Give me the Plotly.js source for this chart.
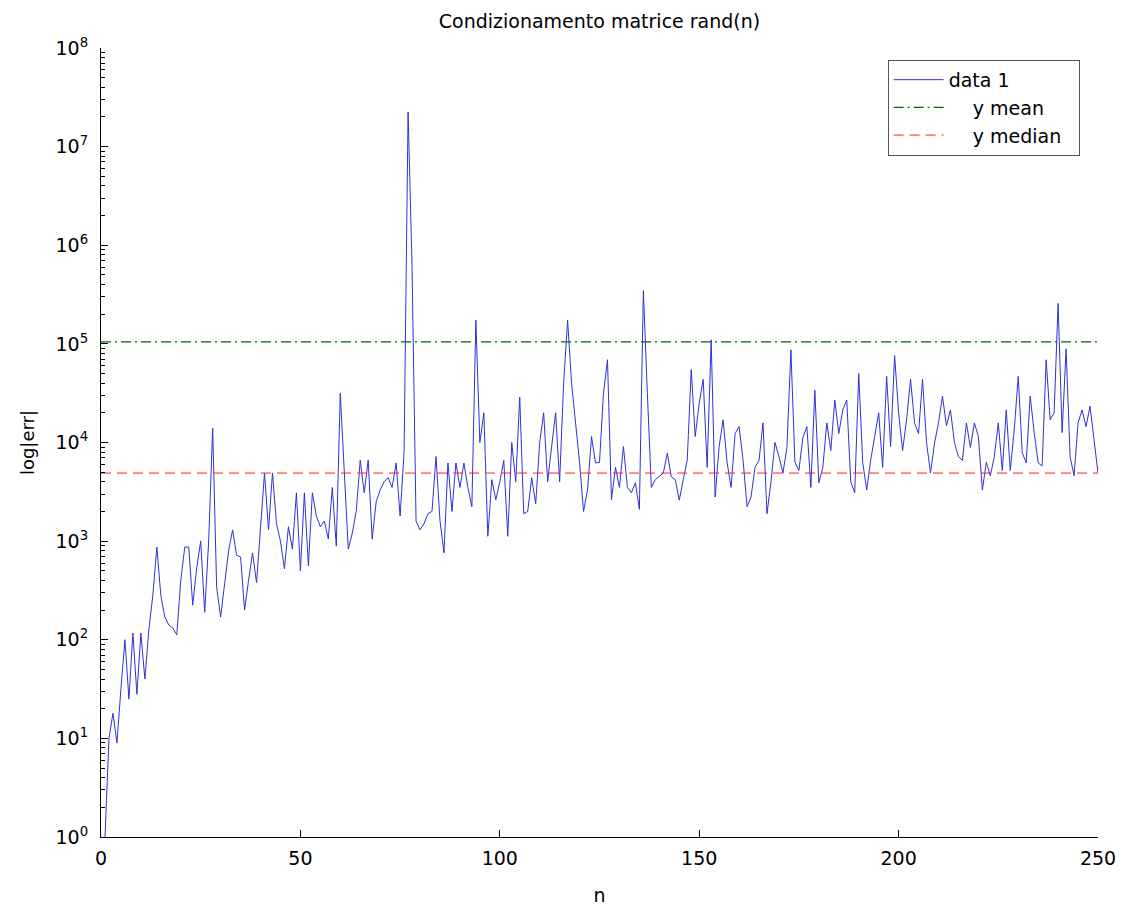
<!DOCTYPE html>
<html>
<head>
<meta charset="utf-8">
<script src="https://cdn.plot.ly/plotly-3.0.1.min.js"></script>
<style>
  html, body { margin: 0; padding: 0; background: #ffffff; }
  #chart { width: 1121px; height: 906px; }
</style>
</head>
<body>
<div id="chart"></div>
<script>
// ---- data ----
const errValues = [
  1, 10, 18, 9, 32, 100, 25, 117, 28, 117,
  40, 126, 282, 871, 282, 170, 141, 132, 112, 398,
  871, 871, 224, 537, 1000, 190, 1000, 14000, 340, 170,
  370, 800, 1300, 720, 690, 200, 400, 760, 380, 1380,
  4900, 1300, 4900, 1500, 1000, 525, 1400, 830, 3090, 500,
  3090, 560, 3090, 1800, 1400, 1600, 1050, 3500, 890, 31600,
  5000, 830, 1200, 2000, 6600, 3090, 6600, 1050, 2500, 3300,
  4000, 4400, 3500, 6200, 1800, 8000, 22400000, 590000, 1600, 1300,
  1500, 1900, 2000, 7200, 1620, 760, 6200, 2000, 6200, 3500,
  6200, 3500, 2240, 174000, 10000, 20000, 1120, 4200, 2630, 4000,
  6600, 1120, 10000, 4000, 28800, 1900, 2000, 4400, 2400, 10000,
  20000, 4000, 9100, 20000, 4000, 39800, 174000, 39800, 15800, 6300,
  2000, 3300, 11500, 6200, 6300, 31600, 69000, 2630, 5600, 3500,
  9100, 3500, 3100, 3900, 2100, 347000, 31600, 3500, 4200, 4500,
  4900, 7800, 4500, 4200, 2600, 4200, 6600, 55000, 11500, 25000,
  43700, 5600, 110000, 2800, 9100, 17000, 6200, 3500, 12300, 14500,
  6600, 2240, 2800, 5600, 6600, 15800, 1900, 4000, 10000, 7200,
  4900, 8900, 87000, 6300, 5200, 11200, 14500, 3500, 33900, 3900,
  5600, 15800, 8300, 26900, 12300, 21400, 26900, 4000, 3100, 50000,
  6300, 3300, 6600, 11500, 20000, 5600, 46800, 9100, 75900, 20000,
  8300, 17000, 43700, 15800, 12300, 43700, 10000, 4900, 9800, 15800,
  29500, 14800, 21400, 10000, 7200, 6600, 15800, 8900, 15800, 11500,
  3300, 6300, 4600, 7200, 15800, 5200, 21400, 5200, 13500, 46800,
  7900, 6200, 29500, 12600, 6200, 5800, 69000, 17000, 20000, 257000,
  12600, 89000, 7200, 4600, 15800, 21400, 14500, 23400, 10700, 4900
];
const nValues = errValues.map((v, i) => i + 1);

const refLineX = [0, 250];
const yMean = 105000;
const yMedian = 4900;

const xTickVals = [0, 50, 100, 150, 200, 250];
const yTickVals = [1, 10, 100, 1000, 10000, 100000, 1000000, 10000000, 100000000];
const yTickText = ['10<sup>0</sup>', '10<sup>1</sup>', '10<sup>2</sup>', '10<sup>3</sup>',
                   '10<sup>4</sup>', '10<sup>5</sup>', '10<sup>6</sup>', '10<sup>7</sup>', '10<sup>8</sup>'];

const seriesNames = ['data 1', '    y mean', '    y median  '];

// ---- traces ----
const traces = [
  {
    x: nValues, y: errValues, type: 'scatter', mode: 'lines', name: seriesNames[0],
    line: { color: '#3030d8', width: 1 }
  },
  {
    x: refLineX, y: refLineX.map(() => yMean), type: 'scatter', mode: 'lines', name: seriesNames[1],
    line: { color: '#006a00', width: 1.3, dash: '10px,4px,2px,4px' }
  },
  {
    x: refLineX, y: refLineX.map(() => yMedian), type: 'scatter', mode: 'lines', name: seriesNames[2],
    line: { color: '#ff2020', width: 1, dash: '10px,6px' }
  }
];

const fontFam = 'DejaVu Sans, Verdana, sans-serif';

const layout = {
  width: 1121, height: 906,
  margin: { l: 101, r: 23, t: 48, b: 69 },
  paper_bgcolor: '#ffffff', plot_bgcolor: '#ffffff',
  font: { family: fontFam, size: 19, color: '#000000' },
  title: {
    text: 'Condizionamento matrice rand(n)',
    xref: 'paper', x: 0.5, xanchor: 'center', y: 0.976, yanchor: 'middle',
    font: { family: fontFam, size: 19, color: '#000000' }
  },
  showlegend: true,
  legend: {
    x: 0.789, y: 0.985, xanchor: 'left', yanchor: 'top',
    bgcolor: '#ffffff', bordercolor: '#555555', borderwidth: 1,
    font: { family: fontFam, size: 19, color: '#000000' },
    tracegroupgap: 0, itemwidth: 50
  },
  xaxis: {
    range: [0, 250], tickmode: 'array', tickvals: xTickVals,
    ticks: 'inside', ticklen: 7, tickcolor: '#000000',
    showline: true, linecolor: '#000000', linewidth: 1,
    showgrid: false, zeroline: false, mirror: false,
    ticklabelstandoff: 4,
    tickfont: { family: fontFam, size: 19 },
    title: { text: 'n', font: { family: fontFam, size: 19 }, standoff: 22 }
  },
  yaxis: {
    type: 'log', range: [0, 8], tickmode: 'array', tickvals: yTickVals, ticktext: yTickText,
    ticks: 'inside', ticklen: 7, tickcolor: '#000000',
    minor: { ticks: 'inside', ticklen: 4, dtick: 'D1', tickcolor: '#000000', showgrid: false },
    showline: true, linecolor: '#000000', linewidth: 1,
    showgrid: false, zeroline: false, mirror: false,
    ticklabelstandoff: 8,
    tickfont: { family: fontFam, size: 19 },
    title: { text: 'log|err|', font: { family: fontFam, size: 18 }, standoff: 16 }
  }
};

Plotly.newPlot('chart', traces, layout, { displayModeBar: false, staticPlot: true });
</script>
</body>
</html>
